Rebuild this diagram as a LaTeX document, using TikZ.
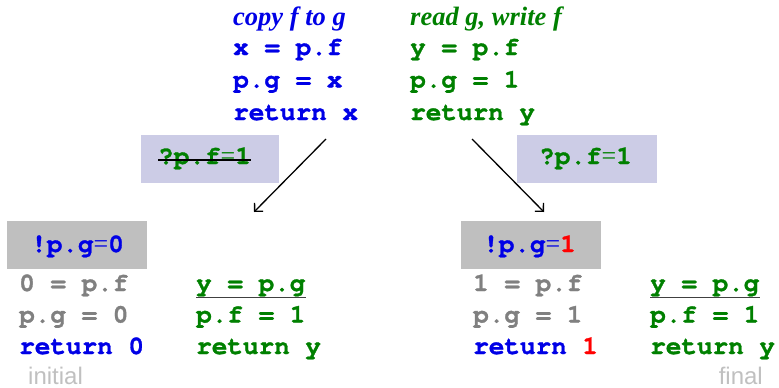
\documentclass[tikz,border=0pt]{standalone}
\usepackage{fontspec}
\setmainfont{Liberation Serif}
\setsansfont{Liberation Sans}
\setmonofont[BoldFeatures={FakeBold=1.2}]{TeX Gyre Cursor}
\usetikzlibrary{arrows.meta}
\definecolor{cblue}{RGB}{0,0,230}
\definecolor{cgreen}{RGB}{0,128,0}
\definecolor{cgray}{RGB}{128,128,128}
\definecolor{clav}{RGB}{204,204,230}
\definecolor{cbox}{RGB}{191,191,191}
\definecolor{clight}{RGB}{192,192,192}
\definecolor{cred}{RGB}{255,0,0}
\newcommand{\eqs}{{\rmfamily\mdseries =}}
\begin{document}
\begin{tikzpicture}[x=1pt,y=-1pt,
  code/.style={anchor=base west,inner sep=0pt,font=\fontsize{26}{30}\selectfont\ttfamily\bfseries},
  head/.style={anchor=base west,inner sep=0pt,font=\fontsize{26.5}{30}\selectfont\rmfamily\bfseries\itshape},
  note/.style={inner sep=0pt,font=\fontsize{24}{28}\selectfont\sffamily,text=clight},
  lavbox/.style={fill=clav,draw=none},
  graybox/.style={fill=cbox,draw=none},
  arr/.style={-{Straight Barb[length=6pt,width=12pt,line width=1.3pt]},line width=1.3pt}]
\useasboundingbox (0,0) rectangle (779,388);
% top programs
\node[head,text=cblue] (h1) at (233,25) {copy f to g};
\node[code,text=cblue] (l1a) at (233,55) {x = p.f};
\node[code,text=cblue] (l1b) at (233,87.5) {p.g = x};
\node[code,text=cblue] (l1c) at (233,120) {return x};
\node[head,text=cgreen] (h2) at (410,25) {read g, write f};
\node[code,text=cgreen] (l2a) at (410,55) {y = p.f};
\node[code,text=cgreen] (l2b) at (410,87.5) {p.g = 1};
\node[code,text=cgreen] (l2c) at (410,120) {return y};
% lavender boxes
\path[lavbox] (141,135) rectangle (279,183);
\node[code,text=cgreen] (q1) at (158,164) {?p.f\eqs1};
\draw[line width=1.2pt] (q1.west |- 0,160) coordinate (s1) -- (q1.east |- 0,160) coordinate (s2);
\path[lavbox] (517,135) rectangle (657,183);
\node[code,text=cgreen] (q2) at (539,164) {?p.f\eqs1};
% arrows
\coordinate (a1s) at (326,139);
\coordinate (a1e) at (254,212);
\coordinate (a2s) at (472,139);
\coordinate (a2e) at (544,212);
\draw[arr] (a1s) -- (a1e);
\draw[arr] (a2s) -- (a2e);
% gray boxes
\path[graybox] (7,221) rectangle (147,269);
\node[code,text=cblue] (g1) at (31,252) {!p.g\eqs0};
\path[graybox] (461,221) rectangle (601,269);
\node[code,text=cblue] (g2) at (483,252) {!p.g\eqs\textcolor{cred}{1}};
% bottom left
\node[code,text=cgray] (b1a) at (19,291) {0 = p.f};
\node[code,text=cgray] (b1b) at (19,322.5) {p.g = 0};
\node[code,text=cblue] (b1c) at (19,354) {return 0};
\node[code,text=cgreen] (b2a) at (196,291) {y = p.g};
\node[code,text=cgreen] (b2b) at (196,322.5) {p.f = 1};
\node[code,text=cgreen] (b2c) at (196,354) {return y};
\draw[line width=1pt,draw=black!75] (b2a.west |- 0,297) -- (b2a.east |- 0,297);
\node[note,anchor=base west] (ini) at (28,384) {initial};
% bottom right
\node[code,text=cgray] (c1a) at (473,291) {1 = p.f};
\node[code,text=cgray] (c1b) at (473,322.5) {p.g = 1};
\node[code,text=cblue] (c1c) at (473,354) {return \textcolor{cred}{1}};
\node[code,text=cgreen] (c2a) at (650,291) {y = p.g};
\node[code,text=cgreen] (c2b) at (650,322.5) {p.f = 1};
\node[code,text=cgreen] (c2c) at (650,354) {return y};
\draw[line width=1pt,draw=black!75] (c2a.west |- 0,297) -- (c2a.east |- 0,297);
\node[note,anchor=base east] (fin) at (763,384) {final};
\end{tikzpicture}
\end{document}
